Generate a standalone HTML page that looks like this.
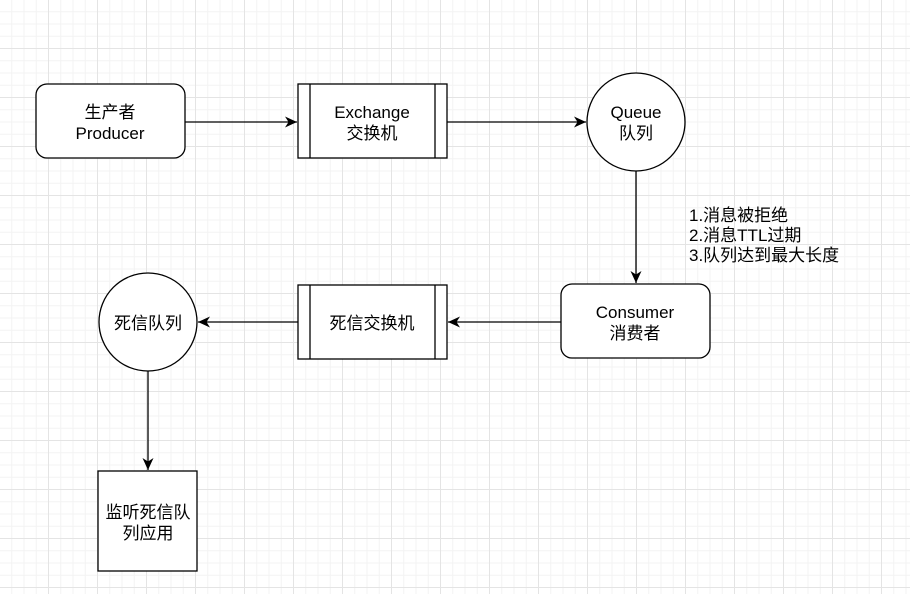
<!DOCTYPE html><html><head><meta charset="utf-8"><style>
body{margin:0;width:910px;height:594px;overflow:hidden;background:#fff;
background-image:linear-gradient(#e4e4e4 1px,transparent 1px),linear-gradient(90deg,#e4e4e4 1px,transparent 1px),linear-gradient(#f3f3f3 1px,transparent 1px),linear-gradient(90deg,#f3f3f3 1px,transparent 1px);
background-size:49px 49px,49px 49px,12.25px 12.25px,12.25px 12.25px;background-position:-1px -1px;}
svg{position:absolute;left:0;top:0}
text{font-family:"Liberation Sans","Noto Sans CJK SC",sans-serif;font-size:17px;fill:#000}
</style></head><body>
<svg width="910" height="594">
<defs><marker id="a" markerWidth="14" markerHeight="14" refX="12" refY="7" orient="auto" markerUnits="userSpaceOnUse"><path d="M0,1.5 L12,7 L0,12.5 L3.5,7 Z" fill="#000"/></marker></defs>
<g fill="#fff" stroke="#000" stroke-width="1.3">
<rect x="36" y="84" width="149" height="74" rx="11"/>
<rect x="298" y="84" width="149" height="74"/>
<line x1="310" y1="84" x2="310" y2="158"/><line x1="435" y1="84" x2="435" y2="158"/>
<circle cx="636" cy="122" r="49"/>
<rect x="561" y="284" width="149" height="74" rx="11"/>
<rect x="298" y="285" width="149" height="74"/>
<line x1="310" y1="285" x2="310" y2="359"/><line x1="435" y1="285" x2="435" y2="359"/>
<circle cx="148" cy="322" r="49"/>
<rect x="98" y="471" width="99" height="100"/>
</g>
<g stroke="#000" stroke-width="1.3" marker-end="url(#a)">
<line x1="185" y1="122" x2="297" y2="122"/>
<line x1="447" y1="122" x2="586" y2="122"/>
<line x1="636" y1="171" x2="636" y2="283"/>
<line x1="561" y1="322" x2="448" y2="322"/>
<line x1="298" y1="322" x2="198" y2="322"/>
<line x1="148" y1="371" x2="148" y2="470"/>
</g>
<g text-anchor="middle">
<text x="110" y="118">生产者</text><text x="110" y="139">Producer</text>
<text x="372" y="118">Exchange</text><text x="372" y="139">交换机</text>
<text x="636" y="118">Queue</text><text x="636" y="139">队列</text>
<text x="635" y="318">Consumer</text><text x="635" y="339">消费者</text>
<text x="372" y="329">死信交换机</text>
<text x="148" y="329">死信队列</text>
<text x="148" y="518">监听死信队</text><text x="148" y="539">列应用</text>
</g>
<text x="689" y="221">1.消息被拒绝</text>
<text x="689" y="241">2.消息TTL过期</text>
<text x="689" y="261">3.队列达到最大长度</text>
</svg></body></html>
